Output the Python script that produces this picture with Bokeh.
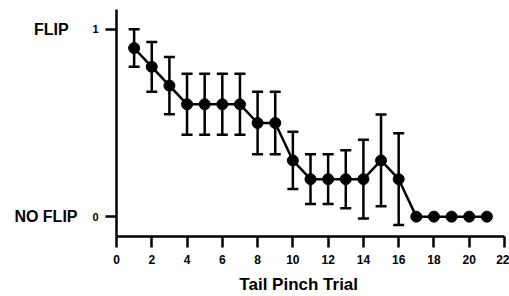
from bokeh.plotting import figure
from bokeh.models import ColumnDataSource, Whisker, TeeHead, Range1d, FixedTicker, LinearAxis
from bokeh.embed import file_html
from bokeh.resources import INLINE

trials = [1, 2, 3, 4, 5, 6, 7, 8, 9, 10, 11, 12, 13, 14, 15, 16, 17, 18, 19, 20, 21]
mean = [0.9, 0.8, 0.7, 0.6, 0.6, 0.6, 0.6, 0.5, 0.5, 0.3, 0.2, 0.2, 0.2, 0.2, 0.3, 0.2, 0, 0, 0, 0, 0]
sem = [0.1, 0.133, 0.153, 0.163, 0.163, 0.163, 0.163, 0.167, 0.167, 0.153, 0.133, 0.133, 0.155, 0.21, 0.245, 0.245, 0, 0, 0, 0, 0]
x_ticks = [0, 2, 4, 6, 8, 10, 12, 14, 16, 18, 20, 22]
y_ticks = [0, 1]
y_names = {1: "FLIP\u00a0\u00a0", 0: "NO FLIP"}
x_title = "Tail Pinch Trial" + "\u00a0" * 5

FONT = "Liberation Sans"

p = figure(width=509, height=296, output_backend="svg", toolbar_location=None,
           x_range=Range1d(0, 22), y_range=Range1d(-0.106, 1.106),
           min_border_left=116, min_border_right=5, min_border_top=9, min_border_bottom=58)
p.outline_line_color = None
p.grid.visible = False
p.background_fill_color = "white"

# error bars
ex = [t for t, s in zip(trials, sem) if s > 0]
em = [m for m, s in zip(mean, sem) if s > 0]
es = [s for s in sem if s > 0]
esrc = ColumnDataSource(dict(x=ex, upper=[m + s for m, s in zip(em, es)], lower=[m - s for m, s in zip(em, es)]))
w = Whisker(source=esrc, base="x", upper="upper", lower="lower", dimension="height",
            line_color="black", line_width=2.5,
            upper_head=TeeHead(size=11, line_color="black", line_width=2.5),
            lower_head=TeeHead(size=11, line_color="black", line_width=2.5))
p.add_layout(w)

p.line(trials, mean, line_color="black", line_width=2.5)
p.scatter(trials, mean, size=11, fill_color="black", line_color="black")

# axes
for ax in (p.xaxis, p.yaxis):
    ax.axis_line_width = 2.5
    ax.axis_line_color = "black"
    ax.major_tick_line_width = 2.5
    ax.major_tick_line_color = "black"
    ax.major_tick_out = 11
    ax.major_tick_in = 0
    ax.minor_tick_line_color = None
    ax.major_label_text_font = FONT
    ax.major_label_text_font_style = "bold"
    ax.major_label_text_color = "black"

p.xaxis.ticker = FixedTicker(ticks=x_ticks)
p.xaxis.major_label_text_font_size = "12px"
p.xaxis.major_label_standoff = 7
p.xaxis.axis_label = x_title
p.xaxis.axis_label_text_font = FONT
p.xaxis.axis_label_text_font_style = "bold"
p.xaxis.axis_label_text_font_size = "17px"
p.xaxis.axis_label_text_color = "black"
p.xaxis.axis_label_standoff = 8

p.yaxis.ticker = FixedTicker(ticks=y_ticks)
p.yaxis.major_label_text_font_size = "11px"
p.yaxis.major_label_standoff = 7

name_axis = LinearAxis(ticker=FixedTicker(ticks=y_ticks), major_label_overrides=y_names,
                       axis_line_color=None, major_tick_line_color=None, minor_tick_line_color=None,
                       major_tick_out=0, major_tick_in=0, major_label_standoff=12,
                       major_label_text_font=FONT, major_label_text_font_style="bold",
                       major_label_text_font_size="16px", major_label_text_color="black")
p.add_layout(name_axis, "left")

open("out.html", "w").write(file_html(p, INLINE))
